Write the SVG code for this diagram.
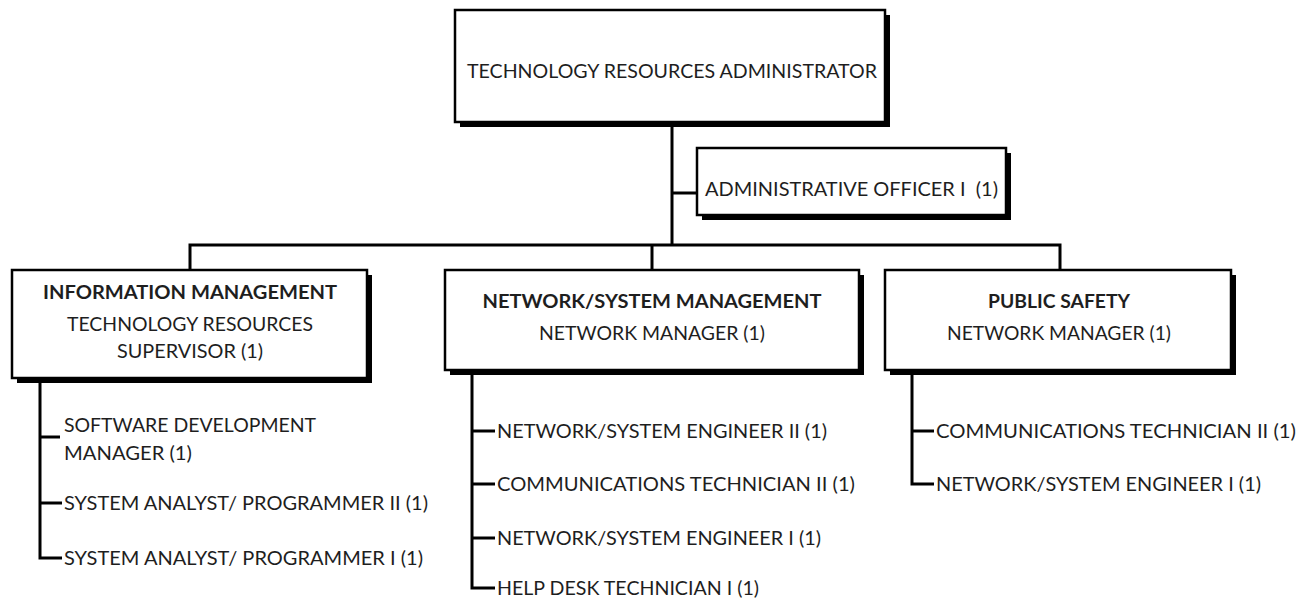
<svg xmlns="http://www.w3.org/2000/svg" width="1301" height="600" viewBox="0 0 1301 600">
  <style>
    .box { fill: #ffffff; stroke: #000000; stroke-width: 2.5; }
    .shadow { fill: #000000; }
    .t { font-family: "Lato", "Liberation Sans", sans-serif; font-size: 19.5px; fill: #1e1e1e; white-space: pre; }
    .b { font-weight: bold; }
    .m { text-anchor: middle; }
    .wire { fill: none; stroke: #000000; stroke-width: 3; stroke-linejoin: miter; stroke-linecap: butt; }
  </style>
  <rect width="1301" height="600" fill="#ffffff"/>

  <!-- connectors -->
  <g id="connectors">
    <path class="wire" d="M672 122 V245"/>
    <path class="wire" d="M672 193 H697"/>
    <path class="wire" d="M190 270 V245 H1060 V270"/>
    <path class="wire" d="M652 245 V270"/>
    <!-- information management staff -->
    <path class="wire" d="M40 383 V558 H62"/>
    <path class="wire" d="M40 437 H60"/>
    <path class="wire" d="M40 503 H62"/>
    <!-- network/system management staff -->
    <path class="wire" d="M472 375 V588 H495"/>
    <path class="wire" d="M472 431 H495"/>
    <path class="wire" d="M472 484 H495"/>
    <path class="wire" d="M472 538 H495"/>
    <!-- public safety staff -->
    <path class="wire" d="M912 375 V484 H934"/>
    <path class="wire" d="M912 431 H934"/>
  </g>

  <g id="administrator">
    <rect class="shadow" x="460" y="15" width="430" height="112"/>
    <rect class="box" x="455" y="10" width="430" height="112"/>
    <text class="t m" x="672" y="78" textLength="410" lengthAdjust="spacingAndGlyphs">TECHNOLOGY RESOURCES ADMINISTRATOR</text>
  </g>

  <g id="admin-officer">
    <rect class="shadow" x="702" y="153" width="309" height="67"/>
    <rect class="box" x="697" y="148" width="309" height="67"/>
    <text class="t" x="705" y="196" textLength="293" lengthAdjust="spacingAndGlyphs">ADMINISTRATIVE OFFICER I  (1)</text>
  </g>

  <g id="information-management">
    <rect class="shadow" x="17" y="275" width="355" height="108"/>
    <rect class="box" x="12" y="270" width="355" height="108"/>
    <text class="t b m" x="190" y="299" textLength="294" lengthAdjust="spacingAndGlyphs">INFORMATION MANAGEMENT</text>
    <text class="t m" x="190" y="331" textLength="246" lengthAdjust="spacingAndGlyphs">TECHNOLOGY RESOURCES</text>
    <text class="t m" x="190" y="358" textLength="146" lengthAdjust="spacingAndGlyphs">SUPERVISOR (1)</text>
  </g>

  <g id="network-system-management">
    <rect class="shadow" x="450" y="275" width="414" height="100"/>
    <rect class="box" x="445" y="270" width="414" height="100"/>
    <text class="t b m" x="652" y="308" textLength="339" lengthAdjust="spacingAndGlyphs">NETWORK/SYSTEM MANAGEMENT</text>
    <text class="t m" x="652" y="340" textLength="226" lengthAdjust="spacingAndGlyphs">NETWORK MANAGER (1)</text>
  </g>

  <g id="public-safety">
    <rect class="shadow" x="890" y="275" width="346" height="100"/>
    <rect class="box" x="885" y="270" width="346" height="100"/>
    <text class="t b m" x="1059" y="308" textLength="142" lengthAdjust="spacingAndGlyphs">PUBLIC SAFETY</text>
    <text class="t m" x="1059" y="340" textLength="224" lengthAdjust="spacingAndGlyphs">NETWORK MANAGER (1)</text>
  </g>

  <g id="information-management-staff">
    <text class="t" x="64" y="432" textLength="252" lengthAdjust="spacingAndGlyphs">SOFTWARE DEVELOPMENT</text>
    <text class="t" x="64" y="460" textLength="128" lengthAdjust="spacingAndGlyphs">MANAGER (1)</text>
    <text class="t" x="64" y="510" textLength="364" lengthAdjust="spacingAndGlyphs">SYSTEM ANALYST/ PROGRAMMER II (1)</text>
    <text class="t" x="64" y="565" textLength="359" lengthAdjust="spacingAndGlyphs">SYSTEM ANALYST/ PROGRAMMER I (1)</text>
  </g>

  <g id="network-system-staff">
    <text class="t" x="497" y="438" textLength="330" lengthAdjust="spacingAndGlyphs">NETWORK/SYSTEM ENGINEER II (1)</text>
    <text class="t" x="497" y="491" textLength="358" lengthAdjust="spacingAndGlyphs">COMMUNICATIONS TECHNICIAN II (1)</text>
    <text class="t" x="497" y="545" textLength="324" lengthAdjust="spacingAndGlyphs">NETWORK/SYSTEM ENGINEER I (1)</text>
    <text class="t" x="497" y="595" textLength="262" lengthAdjust="spacingAndGlyphs">HELP DESK TECHNICIAN I (1)</text>
  </g>

  <g id="public-safety-staff">
    <text class="t" x="936" y="438" textLength="360" lengthAdjust="spacingAndGlyphs">COMMUNICATIONS TECHNICIAN II (1)</text>
    <text class="t" x="936" y="491" textLength="325" lengthAdjust="spacingAndGlyphs">NETWORK/SYSTEM ENGINEER I (1)</text>
  </g>
</svg>
